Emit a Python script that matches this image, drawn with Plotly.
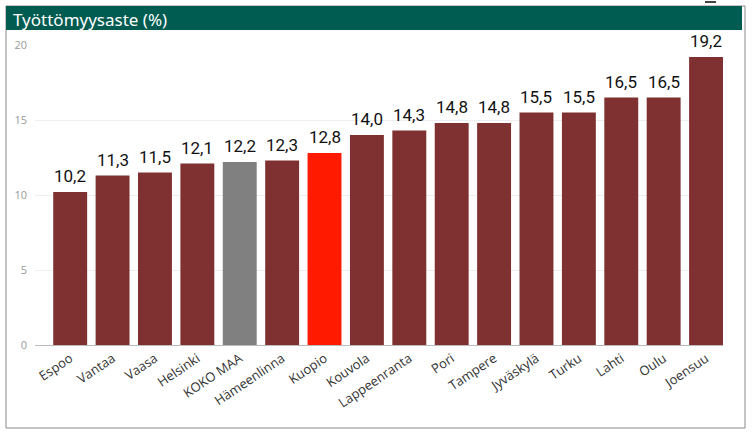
import plotly.graph_objects as go

cities = ["Espoo", "Vantaa", "Vaasa", "Helsinki", "KOKO MAA", "Hämeenlinna", "Kuopio", "Kouvola",
          "Lappeenranta", "Pori", "Tampere", "Jyväskylä", "Turku", "Lahti", "Oulu", "Joensuu"]
rates = [10.2, 11.3, 11.5, 12.1, 12.2, 12.3, 12.8, 14.0, 14.3, 14.8, 14.8, 15.5, 15.5, 16.5, 16.5, 19.2]
y_ticks = [0, 5, 10, 15, 20]

BASE = "#7F3131"
colors = []
for c in cities:
    if c == "KOKO MAA":
        colors.append("#808080")
    elif c == "Kuopio":
        colors.append("#FF1A00")
    else:
        colors.append(BASE)

labels = [f"{v:.1f}".replace(".", ",") for v in rates]

W, H = 753, 436
fig = go.Figure(go.Bar(
    x=cities, y=rates, marker=dict(color=colors, line=dict(width=0)),
    hoverinfo="skip",
))

def px_x(p):
    return p / W

def px_y(p):
    return 1 - p / H

annotations = [
    dict(text="Työttömyysaste (%)", xref="paper", yref="paper",
         x=px_x(11), y=px_y(19), xanchor="left", yanchor="middle",
         showarrow=False, font=dict(family="Noto Sans", size=17, color="white")),
]
for c, v, t in zip(cities, rates, labels):
    annotations.append(dict(
        x=c, y=v, text=t, xref="x", yref="y", showarrow=False,
        xanchor="center", yanchor="bottom", yshift=4,
        font=dict(family="Roboto", size=17, color="#111111"),
    ))

fig.update_layout(
    width=W, height=H,
    margin=dict(l=0, r=0, t=0, b=0, pad=0),
    paper_bgcolor="white", plot_bgcolor="white",
    bargap=0.2, showlegend=False,
    xaxis=dict(
        domain=[px_x(35), px_x(723)],
        range=[-0.83, 15.4],
        tickangle=-34,
        tickfont=dict(family="Open Sans", size=13, color="#333333"),
        showline=True, linecolor="#BBBBBB", linewidth=1,
        showgrid=False, ticks="",
        automargin=False,
    ),
    yaxis=dict(
        domain=[px_y(345), px_y(45)],
        range=[0, 20],
        tickvals=y_ticks,
        tickfont=dict(family="Open Sans", size=11, color="#999999"),
        showgrid=True, gridcolor="#EEEEEE", gridwidth=1,
        zeroline=False, ticks="", showline=False,
        ticklabelstandoff=7,
        automargin=False,
    ),
    shapes=[
        dict(type="rect", xref="paper", yref="paper",
             x0=px_x(6), x1=px_x(745), y0=px_y(428), y1=px_y(6),
             line=dict(color="#8A8A8A", width=1), fillcolor="rgba(0,0,0,0)", layer="below"),
        dict(type="rect", xref="paper", yref="paper",
             x0=px_x(6), x1=px_x(742), y0=px_y(30), y1=px_y(6),
             line=dict(width=0), fillcolor="#005B50", layer="below"),
        dict(type="line", xref="paper", yref="paper",
             x0=px_x(705), x1=px_x(716), y0=px_y(2), y1=px_y(2),
             line=dict(color="#444444", width=2)),
    ],
    annotations=annotations,
)

fig.write_html("out.html", config={"displayModeBar": False},
               post_script="document.body.style.margin='0';document.body.style.padding='0';")
